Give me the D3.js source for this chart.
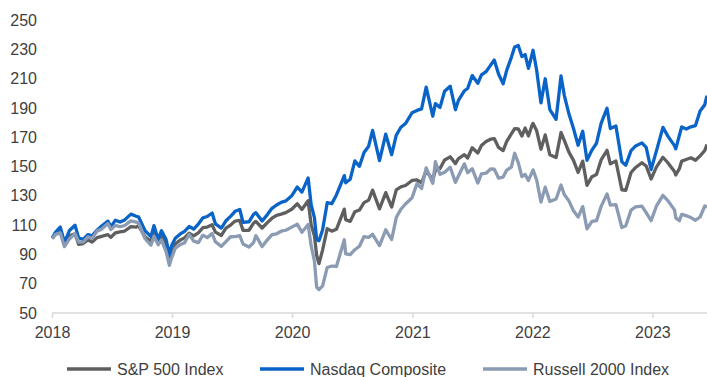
<!DOCTYPE html>
<html>
<head>
<meta charset="utf-8">
<script src="https://cdn.jsdelivr.net/npm/d3@7"></script>
<style>
  html, body { margin: 0; padding: 0; background: #fff; }
  svg { display: block; font-family: "Liberation Sans", Arial, sans-serif; }
</style>
</head>
<body>
<svg id="chart" width="707" height="377"></svg>
<script>
// ---- Data (index levels, rebased to 100 at end of 2017) ----
const seriesNames = ["S&P 500 Index", "Nasdaq Composite", "Russell 2000 Index"];
const baseLevels = [2673.61, 6903.39, 1535.51];
const yTicks = [50, 70, 90, 110, 130, 150, 170, 190, 210, 230, 250];
const xTickYears = [2018, 2019, 2020, 2021, 2022, 2023];

const dates = [
"2018-01-02","2018-01-12","2018-01-26","2018-02-08","2018-02-23","2018-03-12","2018-03-23","2018-04-06","2018-04-20","2018-05-03",
"2018-05-18","2018-06-01","2018-06-20","2018-06-29","2018-07-13","2018-07-27","2018-08-10","2018-08-29","2018-09-14","2018-09-21",
"2018-10-11","2018-10-29","2018-11-07","2018-11-20","2018-11-30","2018-12-14","2018-12-24","2018-12-31","2019-01-11","2019-01-25",
"2019-02-08","2019-02-22","2019-03-08","2019-03-22","2019-04-05","2019-04-18","2019-05-03","2019-05-13","2019-05-31","2019-06-14",
"2019-06-28","2019-07-12","2019-07-26","2019-08-05","2019-08-23","2019-09-06","2019-09-13","2019-10-02","2019-10-18","2019-11-01",
"2019-11-15","2019-11-29","2019-12-13","2019-12-31","2020-01-17","2020-01-31","2020-02-19","2020-02-28","2020-03-09","2020-03-16",
"2020-03-23","2020-04-03","2020-04-17","2020-05-01","2020-05-15","2020-06-08","2020-06-12","2020-06-26","2020-07-10","2020-07-24",
"2020-08-07","2020-08-21","2020-09-02","2020-09-23","2020-10-12","2020-10-30","2020-11-13","2020-11-27","2020-12-11","2020-12-31",
"2021-01-15","2021-01-29","2021-02-12","2021-03-04","2021-03-12","2021-03-26","2021-04-09","2021-04-26","2021-05-12","2021-05-21",
"2021-06-08","2021-06-18","2021-07-02","2021-07-19","2021-07-30","2021-08-13","2021-08-27","2021-09-07","2021-09-20","2021-10-04",
"2021-10-15","2021-10-29","2021-11-08","2021-11-19","2021-11-30","2021-12-10","2021-12-20","2021-12-31","2022-01-03","2022-01-14",
"2022-01-27","2022-02-09","2022-02-23","2022-03-14","2022-03-29","2022-04-08","2022-04-22","2022-05-06","2022-05-20","2022-06-03",
"2022-06-16","2022-07-01","2022-07-15","2022-07-29","2022-08-16","2022-08-26","2022-09-12","2022-09-30","2022-10-12","2022-10-28",
"2022-11-11","2022-11-30","2022-12-13","2022-12-28","2023-01-13","2023-02-02","2023-02-17","2023-03-09","2023-03-13","2023-03-24",
"2023-03-31","2023-04-14","2023-04-28","2023-05-12","2023-05-26","2023-06-09","2023-06-16"
];

const spx = [
2695,2786,2872,2581,2747,2783,2588,2604,2670,2630,
2713,2735,2767,2718,2801,2818,2833,2914,2904,2930,
2728,2641,2813,2641,2760,2600,2351,2507,2596,2665,
2708,2793,2743,2801,2893,2905,2946,2812,2752,2887,
2942,3014,3026,2845,2847,2979,3007,2888,2986,3067,
3120,3141,3169,3231,3330,3226,3386,2954,2747,2386,
2237,2489,2875,2831,2864,3232,3041,3009,3185,3216,
3351,3397,3580,3237,3534,3270,3585,3638,3663,3756,
3768,3714,3934,3768,3943,3974,4129,4187,4063,4156,
4227,4166,4352,4258,4395,4468,4509,4520,4358,4300,
4471,4605,4701,4698,4567,4712,4568,4766,4797,4662,
4326,4587,4225,4173,4631,4488,4272,4123,3901,4109,
3667,3825,3863,4130,4305,4058,4110,3586,3577,3901,
3993,4080,4019,3783,3999,4179,4079,3919,3855,3971,
4109,4138,4169,4124,4205,4299,4410
];

const nasdaq = [
7007,7261,7505,6777,7337,7588,6993,6915,7146,7088,
7354,7554,7781,7510,7826,7737,7839,8110,8010,7987,
7329,7050,7570,6909,7331,6911,6193,6635,6971,7165,
7298,7527,7408,7643,7938,7998,8164,7647,7453,7797,
8006,8244,8330,7726,7751,8103,8177,7786,8089,8386,
8540,8665,8735,8973,9389,9151,9817,8567,7950,6904,
6860,7373,8650,8605,9015,9925,9589,9757,10617,10363,
11011,11312,12056,10633,11876,10912,11829,12206,12378,12888,
12998,13070,14095,12723,13320,13139,13900,14138,13031,13471,
13924,14030,14639,14275,14673,14823,15130,15374,14714,14255,
14897,15498,15982,16057,15538,15630,14980,15645,15833,14893,
13352,14490,13037,12581,14619,13711,12839,12145,11355,12013,
10646,11128,11452,12391,13102,12142,12266,10576,10418,11102,
11323,11468,11256,10213,11079,12201,11787,11338,11189,11824,
12222,12123,12226,12285,12975,13259,13689
];

const russell = [
1550,1592,1608,1463,1544,1600,1510,1512,1565,1550,
1626,1647,1706,1643,1686,1672,1685,1733,1721,1714,
1546,1479,1572,1483,1533,1411,1267,1348,1447,1482,
1503,1590,1521,1505,1584,1558,1600,1514,1466,1517,
1567,1568,1579,1491,1459,1506,1578,1464,1534,1589,
1598,1625,1635,1668,1699,1614,1696,1476,1313,1037,
1014,1052,1245,1260,1256,1535,1388,1379,1431,1467,
1569,1561,1592,1474,1640,1538,1768,1855,1910,1975,
2124,2073,2289,2127,2353,2221,2243,2296,2137,2203,
2331,2238,2280,2130,2226,2233,2277,2275,2182,2192,
2266,2297,2442,2344,2198,2220,2157,2245,2268,2162,
1931,2087,1936,1963,2110,2009,1943,1839,1773,1883,
1649,1728,1736,1885,2016,1899,1903,1664,1682,1846,
1881,1887,1819,1735,1887,2001,1946,1849,1765,1735,
1802,1788,1768,1740,1774,1889,1880
];

const colors = ["#5f5f5f", "#0a64c8", "#8a9bb3"];

// ---- Build ----
const svg = d3.select("#chart");
const parse = d3.timeParse("%Y-%m-%d");
const seriesLevels = [spx, nasdaq, russell];
const series = seriesNames.map((name, i) => ({
  name,
  color: colors[i],
  values: dates.map((d, j) => ({ date: parse(d), value: seriesLevels[i][j] / baseLevels[i] * 100 }))
}));

const x = d3.scaleTime()
  .domain([new Date(2018, 0, 1), new Date(2023, 5, 16)])
  .range([52, 707]);
const y = d3.scaleLinear().domain([50, 250]).range([313, 20]);

const textColor = "#404040";
const fontSize = "16px";
const fontFam = "'Liberation Sans', Arial, sans-serif";

// Y axis labels (no axis line)
const yAxis = d3.axisLeft(y).tickValues(yTicks).tickSize(0).tickPadding(0);
const gy = svg.append("g").attr("transform", "translate(37,0)").call(yAxis);
gy.select(".domain").remove();
gy.selectAll("text").attr("fill", textColor).style("font-size", fontSize)
  .style("font-family", fontFam);

// X axis
const xAxis = d3.axisBottom(x)
  .tickValues(xTickYears.map(yr => new Date(yr, 0, 1)))
  .tickFormat(d3.timeFormat("%Y"))
  .tickSize(5).tickPadding(9);
const gx = svg.append("g").attr("transform", "translate(0,313)").call(xAxis);
gx.select(".domain").attr("stroke", "#d9d9d9").attr("stroke-width", 1.5)
  .attr("d", "M52,0H707");
gx.selectAll(".tick line").attr("stroke", "#d9d9d9").attr("stroke-width", 1.5);
gx.selectAll("text").attr("fill", textColor).style("font-size", fontSize)
  .style("font-family", fontFam);

// Lines
const line = d3.line().x(d => x(d.date)).y(d => y(d.value));
svg.append("g").selectAll("path").data(series).join("path")
  .attr("d", d => line(d.values))
  .attr("fill", "none")
  .attr("stroke", d => d.color)
  .attr("stroke-width", 3.3)
  .attr("stroke-linejoin", "round");

// Legend
const legendX = [67, 260, 483];
const lg = svg.append("g").selectAll("g").data(series).join("g")
  .attr("transform", (d, i) => `translate(${legendX[i]},369)`);
lg.append("line").attr("x1", 0).attr("x2", 44).attr("y1", 0).attr("y2", 0)
  .attr("stroke", d => d.color).attr("stroke-width", 3.5);
lg.append("text").attr("x", 50).attr("y", 0).attr("dy", "0.35em")
  .attr("fill", textColor).style("font-size", fontSize)
  .style("font-family", fontFam)
  .text(d => d.name);
</script>
</body>
</html>
